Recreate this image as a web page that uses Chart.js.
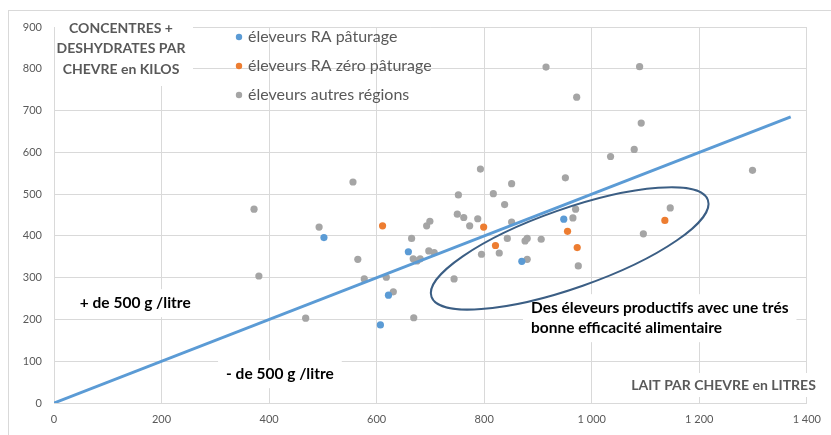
<!DOCTYPE html>
<html>
<head>
<meta charset="utf-8">
<script src="https://cdn.jsdelivr.net/npm/chart.js@4"></script>
<style>
  body { margin: 0; background: #fff; }
  #wrap { position: relative; width: 831px; height: 435px; overflow: hidden; }
  #frame { position: absolute; left: 8px; top: 10px; width: 900px; height: 500px; border: 1px solid #D9D9D9; }
  canvas { position: absolute; left: 0; top: 0; }
</style>
</head>
<body>
<div id="wrap"><div id="frame"></div><canvas id="chart" width="831" height="435"></canvas></div>
<script>
// [litres, kilos]
const raPaturage = [[502, 396], [607, 187], [622, 258], [659, 362], [870, 339], [948, 440]];
const raZeroPaturage = [[611, 424], [799, 421], [821, 377], [955, 411], [973, 372], [1136, 437]];
const autresRegions = [
  [372, 464], [381, 304], [468, 203], [493, 421], [556, 529], [565, 344], [577, 297], [618, 301],
  [631, 266], [665, 394], [669, 204], [668, 345], [675, 340], [681, 345], [693, 424], [699, 435],
  [697, 364], [707, 360], [744, 297], [750, 452], [762, 444], [752, 498], [773, 424], [788, 441],
  [793, 560], [795, 356], [817, 501], [828, 359], [838, 475], [843, 394], [851, 525], [851, 433],
  [876, 388], [880, 394], [880, 344], [906, 392], [915, 804], [951, 539], [965, 443], [970, 464],
  [972, 732], [975, 328], [1035, 590], [1079, 607], [1089, 805], [1092, 670], [1096, 405],
  [1146, 467], [1299, 557]
];
// droite 500 g / litre
const seuil = [[0, 0], [1370, 685]];

const xTicks = [0, 200, 400, 600, 800, 1000, 1200, 1400];
const yTicks = [0, 100, 200, 300, 400, 500, 600, 700, 800, 900];

const seriesNames = ['éleveurs RA pâturage', 'éleveurs RA zéro pâturage', 'éleveurs autres régions'];
const seriesColors = ['#5B9BD5', '#ED7D31', '#A5A5A5'];

const yTitle = ['CONCENTRES +', 'DESHYDRATES PAR', 'CHEVRE en KILOS'];
const xTitle = 'LAIT PAR CHEVRE en LITRES';

// notes placed in data units
const notes = [
  { lines: ['+ de 500 g /litre'], x: 48, y: 239 },
  { lines: ['- de 500 g /litre'], x: 320, y: 69 },
  { lines: ['Des éleveurs productifs avec une trés', 'bonne efficacité alimentaire'], x: 887, y: 227 }
];
// ellipse: centre + end of the long axis (data units), short/long ratio
const zone = { cx: 959, cy: 370, ex: 1216, ey: 486, ratio: 0.27 };

const FONT = 'Lato, "Open Sans", sans-serif';
const toXY = arr => arr.map(p => ({ x: p[0], y: p[1] }));
const fmt = v => v >= 1000 ? Math.floor(v / 1000) + ' ' + String(v % 1000).padStart(3, '0') : String(v);

const overlay = {
  id: 'overlay',
  beforeDatasetsDraw(chart) {
    const { ctx, chartArea: a, scales: { x, y } } = chart;
    ctx.save();
    ctx.fillStyle = '#fff';
    // white boxes behind the titles and notes
    ctx.fillRect(a.left + 1, 12, 138, 74);
    ctx.font = 'bold 14px ' + FONT;
    const tw = ctx.measureText(xTitle).width;
    ctx.fillRect(a.right + 12 - tw - 6, 373, tw + 12, 24);
    ctx.font = 'bold 15.5px ' + FONT;
    notes.forEach(n => {
      const w = Math.max(...n.lines.map(l => ctx.measureText(l).width));
      const px = x.getPixelForValue(n.x), py = y.getPixelForValue(n.y);
      ctx.fillRect(px - 8, py - 14, w + 16, n.lines.length * 20 + 8);
    });
    ctx.restore();
  },
  afterDatasetsDraw(chart) {
    const { ctx, chartArea: a, scales: { x, y } } = chart;
    ctx.save();
    // ellipse
    const cx = x.getPixelForValue(zone.cx), cy = y.getPixelForValue(zone.cy);
    const ex = x.getPixelForValue(zone.ex), ey = y.getPixelForValue(zone.ey);
    const ra = Math.hypot(ex - cx, ey - cy);
    ctx.beginPath();
    ctx.ellipse(cx, cy, ra, ra * zone.ratio, Math.atan2(ey - cy, ex - cx), 0, Math.PI * 2);
    ctx.strokeStyle = '#3B5E84';
    ctx.lineWidth = 2;
    ctx.stroke();

    // notes
    ctx.fillStyle = '#000';
    ctx.font = 'bold 15.5px ' + FONT;
    ctx.textBaseline = 'middle';
    notes.forEach(n => {
      const px = x.getPixelForValue(n.x), py = y.getPixelForValue(n.y);
      n.lines.forEach((l, i) => ctx.fillText(l, px, py + i * 20));
    });

    // axis titles
    ctx.fillStyle = '#595959';
    ctx.font = 'bold 14px ' + FONT;
    ctx.textAlign = 'center';
    yTitle.forEach((l, i) => ctx.fillText(l, a.left + 67, 28 + i * 20.5));
    ctx.textAlign = 'right';
    ctx.fillText(xTitle, a.right + 9, 385);

    // legend
    ctx.textAlign = 'left';
    ctx.font = '16px ' + FONT;
    seriesNames.forEach((s, i) => {
      const ly = 37 + i * 29;
      ctx.beginPath();
      ctx.arc(a.left + 185, ly, 3.2, 0, Math.PI * 2);
      ctx.fillStyle = seriesColors[i];
      ctx.fill();
      ctx.fillStyle = '#595959';
      ctx.fillText(s, a.left + 194, ly);
    });
    ctx.restore();
  }
};

const point = { pointRadius: 3.6, pointHoverRadius: 3.6, pointBorderWidth: 0 };

new Chart(document.getElementById('chart'), {
  type: 'scatter',
  data: {
    datasets: [
      { type: 'line', label: '500 g/l', data: toXY(seuil), borderColor: '#5B9BD5', borderWidth: 3, pointRadius: 0, fill: false },
      { label: seriesNames[0], data: toXY(raPaturage), backgroundColor: seriesColors[0], ...point },
      { label: seriesNames[1], data: toXY(raZeroPaturage), backgroundColor: seriesColors[1], ...point },
      { label: seriesNames[2], data: toXY(autresRegions), backgroundColor: seriesColors[2], ...point }
    ]
  },
  options: {
    responsive: false,
    animation: false,
    layout: { padding: { top: 27, right: 23, left: 0, bottom: 0 } },
    plugins: { legend: { display: false }, tooltip: { enabled: false } },
    scales: {
      x: {
        type: 'linear', min: 0, max: 1400,
        afterBuildTicks: s => { s.ticks = xTicks.map(v => ({ value: v })); },
        afterFit: s => { s.height = 32; },
        grid: { color: '#D9D9D9', drawTicks: false },
        border: { color: '#D9D9D9' },
        ticks: { padding: 10, color: '#595959', font: { family: FONT, size: 11 }, callback: v => fmt(v), maxRotation: 0 }
      },
      y: {
        min: 0, max: 900,
        afterBuildTicks: s => { s.ticks = yTicks.map(v => ({ value: v })); },
        afterFit: s => { s.width = 54; },
        grid: { color: '#D9D9D9', drawTicks: false },
        border: { color: '#D9D9D9' },
        ticks: { padding: 12, color: '#595959', font: { family: FONT, size: 11 } }
      }
    }
  },
  plugins: [overlay]
});
</script>
</body>
</html>
